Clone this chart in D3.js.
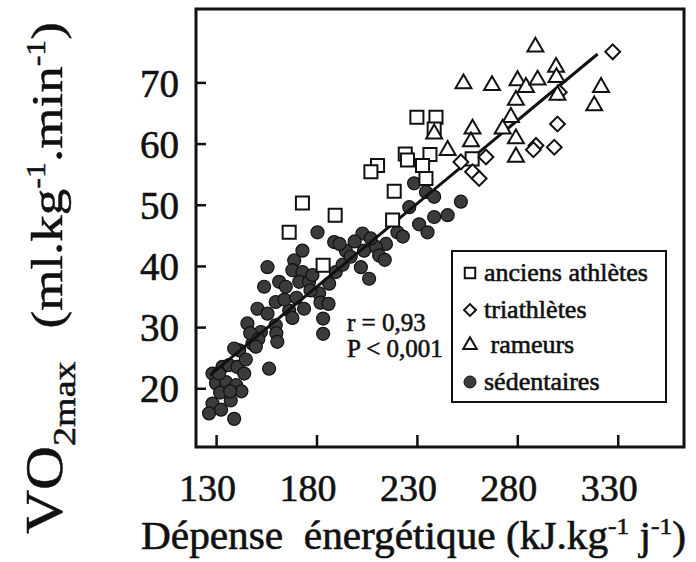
<!DOCTYPE html>
<html lang="fr">
  <head>
    <meta charset="UTF-8" />
    <title>VO2max et dépense énergétique</title>
    <script src="https://d3js.org/d3.v7.min.js"></script>
    <style>
      body { margin: 0; background: #fff; }
      text {
        font-family: "Liberation Serif", "DejaVu Serif", serif;
        fill: #111;
        stroke: #111;
        stroke-width: 0.6px;
      }
      .axis .domain { display: none; }
      .axis line { stroke: #111; stroke-width: 2.5; }
    </style>
  </head>
  <body>
    <svg id="canvas" width="696" height="562"></svg>
    <script>
      // valeurs (x : kJ/kg/j, y : ml/kg/min)
      const xTicks = [130, 180, 230, 280, 330];
      const yTicks = [20, 30, 40, 50, 60, 70];

      const anciens = [
        [230, 64.3], [239.5, 64.3], [238.6, 62.4], [224.2, 58.3], [225.3, 57.3],
        [236.5, 58.2], [232.8, 56.4], [210.4, 56.4], [207.1, 55.4], [234.5, 54.3],
        [218.7, 52.2], [173, 50.3], [189.3, 48.3], [217.9, 47.5], [166.4, 45.5],
        [183.3, 40.1], [257.5, 57.5]
      ];
      const triathletes = [
        [327.5, 75], [300, 63.2], [298.4, 59.4], [289.3, 59.7], [288, 59],
        [264.4, 57.8], [251.9, 57], [257.7, 55.4], [261, 54.3], [300.9, 68.4]
      ];
      const rameurs = [
        [289, 75.8], [299.3, 72.5], [299.5, 70.8], [253.2, 69.8], [267.4, 69.5],
        [280.1, 70.3], [284.3, 69.2], [290.1, 70.4], [279.3, 67.1], [321.7, 69.2],
        [318.3, 66.2], [300, 67.9], [276.8, 64.3], [272.7, 62.4], [257.7, 62.4],
        [256.9, 60.3], [279.3, 60.8], [279.3, 57.8], [245.3, 58.9], [238.6, 61.6]
      ];
      const sedentaires = [
        [228.6, 53.5], [234.5, 52.1], [238.6, 51.3], [226.2, 49.6], [251.9, 50.5],
        [238.6, 48], [245.3, 48.3], [231.1, 46.8], [235.3, 45.5], [220.3, 45.5],
        [223, 44.8], [214.6, 43.6], [209.6, 43.1], [211.2, 41.7], [202.9, 45.3],
        [203.7, 42.5], [202.1, 39.8], [206.2, 37.9], [194.6, 42.5], [188.8, 43.9],
        [191.5, 43.6], [180.5, 45.5], [189.6, 39], [193, 40.2], [186.3, 37.1],
        [181.3, 35.5], [173, 42.5], [168.9, 40.9], [168, 39.3], [173, 39],
        [171.4, 37.4], [176.3, 37.4], [177, 36], [155.6, 39.8], [153.9, 36.6],
        [161.4, 37.4], [164.7, 36.6], [159.7, 34.1], [150.6, 33], [155.6, 32.2],
        [166.4, 32.7], [173.8, 33], [168, 31.5], [159.7, 30.3], [145.6, 30.6],
        [152.3, 29.2], [160, 29], [160.5, 27.6], [148.1, 27.3], [141.5, 26.2],
        [139, 26.5], [156.4, 23.2], [183.3, 31.4], [183.3, 28.9], [197, 41.5],
        [199, 44], [207, 44.5], [214, 41], [178, 38.5], [182, 34], [186, 33.8],
        [164, 34.5], [170, 34.8], [147, 29], [151, 28],
        [128.2, 22.4], [133.2, 23.5], [136.5, 23.8], [140.6, 23.5], [144, 22.4],
        [130, 20.8], [135, 21], [140, 20.5], [142.6, 19.5], [132, 19.3],
        [137.3, 18], [128.2, 17.5], [126.5, 15.9], [139, 15], [132.5, 16.5],
        [137, 19.5], [131.5, 22.4], [144.8, 24.7], [149.8, 26.8]
      ];

      // droite de régression
      const fitRange = [127, 320];
      const fitIntercept = -12.4;
      const fitSlope = 0.272;

      const legendLabels = ["anciens athlètes", "triathlètes", "\u00a0rameurs", "sédentaires"];
      const statLines = ["r = 0,93", "P < 0,001"];

      const svg = d3.select("#canvas");
      const x = d3.scaleLinear().domain([120, 363]).range([196, 684]);
      const y = d3.scaleLinear().domain([10.4, 82]).range([447, 9]);

      // axes (graduations vers l'intérieur)
      const gx = svg.append("g")
        .attr("class", "axis")
        .attr("transform", `translate(0,${y.range()[0]})`)
        .call(d3.axisBottom(x).tickValues(xTicks).tickSize(-12).tickPadding(0));
      gx.selectAll("text")
        .attr("y", 54).attr("dy", 0).attr("dx", -9)
        .attr("font-size", 38);

      const gy = svg.append("g")
        .attr("class", "axis")
        .attr("transform", `translate(${x.range()[0]},0)`)
        .call(d3.axisLeft(y).tickValues(yTicks).tickSize(-10).tickPadding(17));
      gy.selectAll("text").attr("font-size", 39).attr("dy", "0.35em");

      // cadre
      svg.append("rect")
        .attr("x", x.range()[0]).attr("y", y.range()[1])
        .attr("width", x.range()[1] - x.range()[0])
        .attr("height", y.range()[0] - y.range()[1])
        .attr("fill", "none").attr("stroke", "#111").attr("stroke-width", 3);

      // sédentaires
      svg.append("g").selectAll("circle")
        .data(sedentaires).enter().append("circle")
        .attr("cx", d => x(d[0])).attr("cy", d => y(d[1]))
        .attr("r", 6.5)
        .attr("fill", "#3b3b3b").attr("stroke", "#111").attr("stroke-width", 1.2);

      // droite
      svg.append("line")
        .attr("x1", x(fitRange[0])).attr("y1", y(fitIntercept + fitSlope * fitRange[0]))
        .attr("x2", x(fitRange[1])).attr("y2", y(fitIntercept + fitSlope * fitRange[1]))
        .attr("stroke", "#111").attr("stroke-width", 3);

      const square = d3.symbol().type(d3.symbolSquare).size(170);
      const diamond = d3.symbol().type(d3.symbolSquare).size(110);
      const triangle = d3.symbol().type(d3.symbolTriangle).size(110);

      function drawOpen(data, gen, rot) {
        svg.append("g").selectAll("path")
          .data(data).enter().append("path")
          .attr("d", gen)
          .attr("transform", d => `translate(${x(d[0])},${y(d[1])}) rotate(${rot})`)
          .attr("fill", "#fff").attr("stroke", "#111").attr("stroke-width", 2);
      }
      drawOpen(anciens, square, 0);
      drawOpen(triathletes, diamond, 45);
      drawOpen(rameurs, triangle, 0);

      // r et P
      svg.append("g").selectAll("text")
        .data(statLines).enter().append("text")
        .attr("x", 347).attr("y", (d, i) => 331 + i * 26)
        .attr("font-size", 25)
        .text(d => d);

      // légende
      const lg = svg.append("g");
      lg.append("rect")
        .attr("x", 452).attr("y", 251).attr("width", 214).attr("height", 151)
        .attr("fill", "#fff").attr("stroke", "#111").attr("stroke-width", 2);
      const rows = [273, 310, 345, 382];
      const legendSym = [
        d3.symbol().type(d3.symbolSquare).size(110),
        d3.symbol().type(d3.symbolSquare).size(70),
        d3.symbol().type(d3.symbolTriangle).size(80),
        null
      ];
      legendLabels.forEach((lab, i) => {
        const g = lg.append("g").attr("transform", `translate(470,${rows[i]})`);
        if (legendSym[i]) {
          g.append("path").attr("d", legendSym[i])
            .attr("transform", i === 1 ? "rotate(45)" : null)
            .attr("fill", "#fff").attr("stroke", "#111").attr("stroke-width", 2);
        } else {
          g.append("circle").attr("r", 6).attr("fill", "#3b3b3b").attr("stroke", "#111");
        }
        g.append("text").attr("x", 14).attr("y", 8).attr("font-size", 26).text(lab);
      });

      // titre axe x
      const xt = svg.append("text")
        .attr("x", 141).attr("y", 549).attr("font-size", 39)
        .attr("textLength", 545).attr("lengthAdjust", "spacingAndGlyphs");
      xt.append("tspan").text("Dépense\u00a0\u00a0énergétique (kJ.kg");
      xt.append("tspan").attr("font-size", 24).attr("dy", -15).text("-1");
      xt.append("tspan").attr("dy", 15).text(" j");
      xt.append("tspan").attr("font-size", 24).attr("dy", -15).text("-1");
      xt.append("tspan").attr("dy", 15).text(")");

      // titre axe y
      const yt = svg.append("text")
        .attr("transform", "translate(62,534) rotate(-90) scale(1,0.85)")
        .attr("font-size", 53);
      yt.append("tspan").attr("font-size", 61).text("VO");
      yt.append("tspan").attr("font-size", 38).attr("dy", 15).text("2max");
      yt.append("tspan").attr("dy", -15).attr("dx", 33).text("(ml.kg");
      yt.append("tspan").attr("font-size", 32).attr("dy", -20).text("-1");
      yt.append("tspan").attr("dy", 20).text(".min");
      yt.append("tspan").attr("font-size", 32).attr("dy", -20).text("-1");
      yt.append("tspan").attr("dy", 20).text(")");
    </script>
  </body>
</html>
